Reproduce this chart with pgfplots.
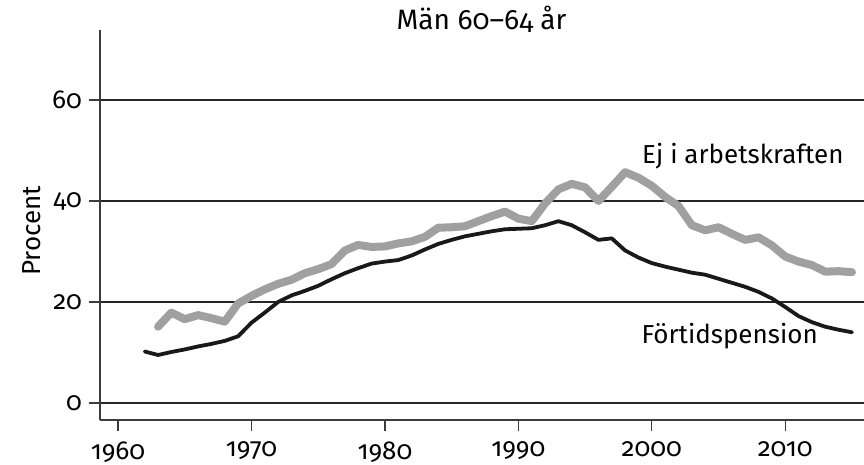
\documentclass[border=0pt]{standalone}
\usepackage{fontspec}
\setmainfont{Fira Sans}[Numbers=OldStyle]
\usepackage{pgfplots}
\pgfplotsset{compat=1.18}
\definecolor{lineGray}{RGB}{160,160,160}
\definecolor{axGray}{RGB}{60,60,60}

\pgfplotstableread{
year val
1963 15.1
1964 17.9
1965 16.6
1966 17.4
1967 16.8
1968 16.1
1969 19.7
1970 21.2
1971 22.5
1972 23.6
1973 24.4
1974 25.7
1975 26.5
1976 27.5
1977 30.2
1978 31.3
1979 30.9
1980 31.0
1981 31.6
1982 32.0
1983 32.9
1984 34.7
1985 34.8
1986 35.0
1987 36.0
1988 37.0
1989 37.9
1990 36.5
1991 36.0
1992 39.5
1993 42.3
1994 43.4
1995 42.7
1996 40.0
1997 42.8
1998 45.7
1999 44.6
2000 43.0
2001 40.8
2002 39.0
2003 35.2
2004 34.2
2005 34.8
2006 33.5
2007 32.3
2008 32.8
2009 31.2
2010 29.0
2011 28.0
2012 27.3
2013 26.0
2014 26.1
2015 25.9
}\ejarb

\pgfplotstableread{
year val
1962 10.2
1963 9.5
1964 10.1
1965 10.6
1966 11.2
1967 11.7
1968 12.3
1969 13.2
1970 15.9
1971 17.9
1972 20.0
1973 21.3
1974 22.2
1975 23.2
1976 24.5
1977 25.7
1978 26.7
1979 27.6
1980 28.0
1981 28.3
1982 29.2
1983 30.4
1984 31.5
1985 32.3
1986 33.0
1987 33.5
1988 34.0
1989 34.4
1990 34.5
1991 34.6
1992 35.2
1993 36.0
1994 35.2
1995 33.8
1996 32.3
1997 32.6
1998 30.2
1999 28.8
2000 27.7
2001 27.0
2002 26.4
2003 25.8
2004 25.4
2005 24.6
2006 23.8
2007 23.0
2008 22.0
2009 20.7
2010 19.0
2011 17.2
2012 16.0
2013 15.1
2014 14.5
2015 14.0
}\fortid

\begin{document}
\begin{tikzpicture}
\begin{axis}[scale only axis,width=382pt,height=195pt,
 xmin=1958.65,xmax=2015.9,ymin=-3.37,ymax=73.86,
 axis lines=left,axis line style={-,axGray,line width=0.6pt},
 xtick={1960,1970,...,2010},ytick={0,20,40,60},
 ymajorgrids,grid style={black!85,line width=0.7pt},
 tick align=outside,major tick length=5.5pt,tick style={axGray,line width=0.6pt},
 /pgf/number format/assume math mode=true,
 x tick label style={/pgf/number format/1000 sep={},yshift=-2pt},
 ticklabel style={font=\fontsize{13}{15}\selectfont},
 ylabel={Procent},
 ylabel style={at={(axis description cs:-0.089,0.485)},anchor=center,font=\fontsize{13}{15}\selectfont},
 clip=false]
\addplot[lineGray,line width=4pt,line join=round,line cap=round] table[x=year,y=val] {\ejarb};
\addplot[black!90,line width=1.9pt,line join=round,line cap=round] table[x=year,y=val] {\fortid};
\node[anchor=base west,inner sep=0,font=\fontsize{13}{15}\selectfont] at (axis cs:1999.25,47.5) {Ej i arbetskraften};
\node[anchor=base west,inner sep=0,font=\fontsize{13}{15}\selectfont] at (axis cs:1999.2,11.8) {Förtidspension};
\node[anchor=base,inner sep=0,font=\fontsize{14}{16}\selectfont] at ([yshift=0.5pt]rel axis cs:0.4995,1) {Män 60–64 år};
\end{axis}
\pgfresetboundingbox
\path ([xshift=-50pt,yshift=-22.5pt]current axis.south west) rectangle ([yshift=15pt]current axis.north east);
\end{tikzpicture}
\end{document}
